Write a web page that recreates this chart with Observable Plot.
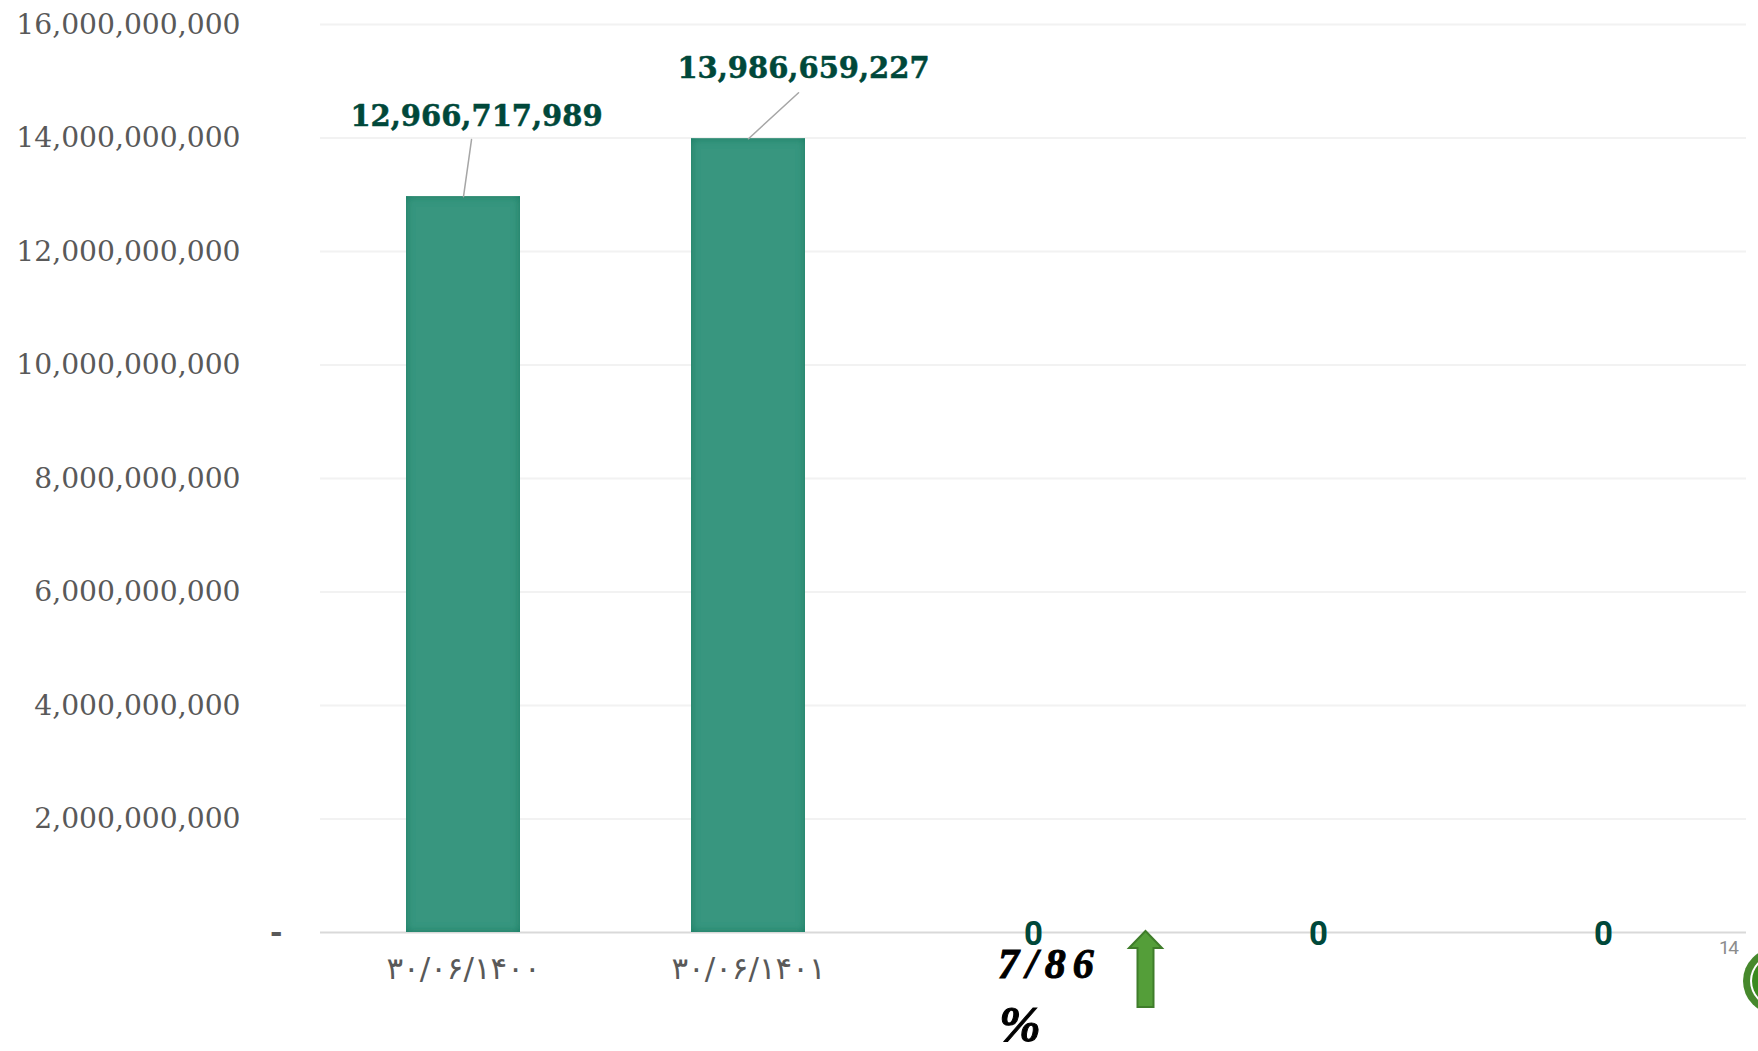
<!DOCTYPE html>
<html lang="fa">
<head>
<meta charset="utf-8">
<script src="https://cdn.jsdelivr.net/npm/d3@7"></script>
<script src="https://cdn.jsdelivr.net/npm/@observablehq/plot@0.6"></script>
<style>
html,body{margin:0;padding:0;background:#fff;width:1758px;height:1051px;overflow:hidden}
#wrap{position:relative;width:1758px;height:1051px;overflow:hidden}
#wrap svg{display:block}
.note{position:absolute;font-family:"Liberation Serif",serif;font-weight:bold;font-style:italic;color:#000;line-height:1;white-space:nowrap;-webkit-text-stroke:1px #000}
#page{position:absolute;left:1719px;top:936px;font:19px Roboto,sans-serif;color:#8c8c8c;letter-spacing:-1.5px}
#deco{position:absolute;left:0;top:0;pointer-events:none}
</style>
</head>
<body>
<div id="wrap"></div>
<script>
const periods = ["۳۰/۰۶/۱۴۰۰", "۳۰/۰۶/۱۴۰۱", " ", "  ", "   "];
const amounts = [12966717989, 13986659227, 0, 0, 0];
const yTicks = [2e9, 4e9, 6e9, 8e9, 10e9, 12e9, 14e9, 16e9];
const changeText = "7/86";
const changeUnit = "%";
const pageNumber = "14";

const rows = periods.map((period, i) => ({period, amount: amounts[i]}));
const positive = rows.filter(d => d.amount > 0);
const zeros = rows.filter(d => d.amount === 0);
const fmt = d3.format(",");
const serif = "'DejaVu Serif', serif";
const line = {draw(c, l) { c.moveTo(0, 0); c.lineTo(0, -l); }};

const leader = (d, length, rotate) => Plot.vector([d], {
  x: "period", y: "amount", length, rotate, anchor: "start", shape: line,
  stroke: "#a6a6a6", strokeWidth: 1.5
});
const label = (d, dx, dy) => Plot.text([d], {
  x: "period", y: "amount", text: d => fmt(d.amount), dx, dy,
  fill: "#00483a", stroke: "#00483a", strokeWidth: 0.5,
  fontFamily: serif, fontWeight: "bold", fontSize: 29
});

const plot = Plot.plot({
  width: 1758, height: 1051,
  marginTop: 24, marginBottom: 119, marginLeft: 320, marginRight: 12,
  style: {background: "transparent"},
  x: {type: "band", domain: periods, paddingInner: 0.6, paddingOuter: 0.3, align: 0.5, label: null},
  y: {domain: [0, 16e9], label: null},
  marks: [
    Plot.ruleY(yTicks, {stroke: "#f2f2f2", strokeWidth: 2}),
    Plot.ruleY([0], {stroke: "#d9d9d9", strokeWidth: 2}),
    Plot.barY(positive, {x: "period", y: "amount", fill: "#38967f", className: "money-bar"}),
    Plot.axisY({ticks: yTicks, tickSize: 0, tickPadding: 80, tickFormat: fmt, label: null,
      fontSize: 28.2, fontFamily: serif, fill: "#595959", fontWeight: 300}),
    Plot.axisY({ticks: [0], tickSize: 0, tickPadding: 38, tickFormat: () => "-", label: null,
      fontSize: 30, fontFamily: serif, fontWeight: "bold", fill: "#595959"}),
    Plot.axisX({tickSize: 0, tickPadding: 24, label: null, fontSize: 31,
      fontFamily: "'DejaVu Sans', sans-serif", fill: "#595959"}),
    leader(positive[0], 57.6, 8),
    leader(positive[1], 68, 47.4),
    label(positive[0], 13, -80),
    label(positive[1], 55, -70),
    Plot.text(zeros, {x: "period", y: "amount", text: d => fmt(d.amount), dy: 2,
      fill: "#00483a", fontFamily: "Roboto, sans-serif", fontWeight: "bold", fontSize: 33})
  ]
});

const wrap = document.getElementById("wrap");
wrap.appendChild(plot);

// soft inner shading of the bars
const defs = d3.select(plot).append("defs");
const f = defs.append("filter").attr("id", "inset")
  .attr("x", "-0.2").attr("y", "-0.2").attr("width", "1.4").attr("height", "1.4");
f.append("feFlood").attr("flood-color", "#157a60").attr("result", "c");
f.append("feComposite").attr("in", "c").attr("in2", "SourceAlpha").attr("operator", "out").attr("result", "o");
f.append("feGaussianBlur").attr("in", "o").attr("stdDeviation", 4).attr("result", "b");
f.append("feComposite").attr("in", "b").attr("in2", "SourceAlpha").attr("operator", "in").attr("result", "s");
const mg = f.append("feMerge");
mg.append("feMergeNode").attr("in", "SourceGraphic");
mg.append("feMergeNode").attr("in", "s");
d3.select(plot).selectAll(".money-bar rect").attr("filter", "url(#inset)");

// annotations laid over the chart
const addNote = (text, left, top, size, spacing) => {
  const n = document.createElement("div");
  n.className = "note"; n.textContent = text;
  n.style.left = left + "px"; n.style.top = top + "px";
  n.style.fontSize = size + "px"; n.style.letterSpacing = spacing + "px";
  wrap.appendChild(n);
};
addNote(changeText, 998, 943, 42, 7);
addNote(changeUnit, 999, 999, 50, 0);

const p = document.createElement("div");
p.id = "page"; p.textContent = pageNumber;
wrap.appendChild(p);

const deco = d3.select(wrap).append("svg").attr("id", "deco").attr("width", 1758).attr("height", 1051);
deco.append("path")
  .attr("d", "M1145.5 931 L1162 948 L1153.5 948 L1153.5 1007 L1137.5 1007 L1137.5 948 L1129 948 Z")
  .attr("fill", "#549e39").attr("stroke", "#3f7d2a").attr("stroke-width", 2);
deco.append("circle").attr("cx", 1776).attr("cy", 981).attr("r", 33).attr("fill", "#46882c");
deco.append("circle").attr("cx", 1776).attr("cy", 981).attr("r", 26).attr("fill", "#fff");
deco.append("circle").attr("cx", 1776).attr("cy", 981).attr("r", 24).attr("fill", "#3a8a1e");
</script>
</body>
</html>
